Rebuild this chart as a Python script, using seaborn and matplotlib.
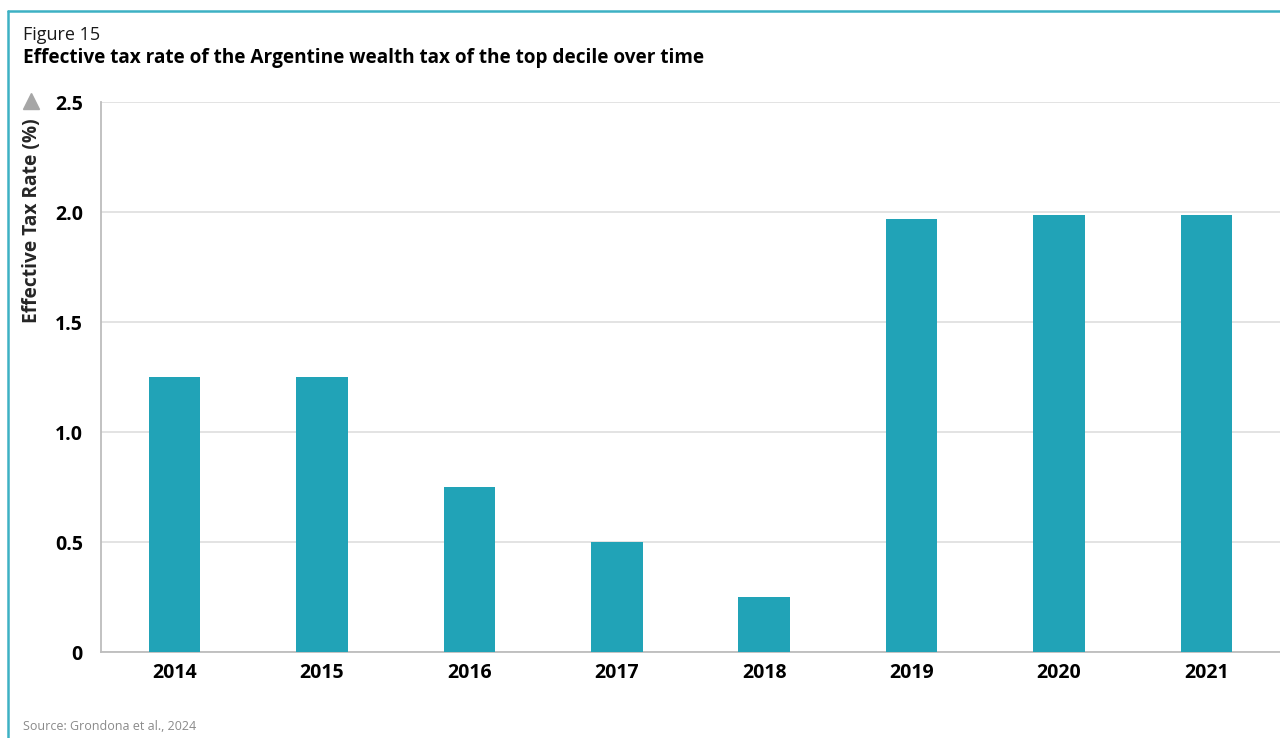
import matplotlib
matplotlib.use("Agg")
import matplotlib.pyplot as plt
from matplotlib.lines import Line2D
import seaborn as sns
import pandas as pd

# Effective wealth-tax rate of the top decile, by year (%)
years = ["2014", "2015", "2016", "2017", "2018", "2019", "2020", "2021"]
rates = [1.25, 1.25, 0.75, 0.50, 0.25, 1.97, 1.99, 1.99]
y_ticks = [0, 0.5, 1.0, 1.5, 2.0, 2.5]
y_tick_labels = ["0", "0.5", "1.0", "1.5", "2.0", "2.5"]

BAR = "#21A3B7"
FRAME = "#3DB1C4"
GRID = "#DEDEDE"
AXIS = "#BDBDBD"

sns.set_theme(style="white")
plt.rcParams["font.family"] = ["Open Sans", "DejaVu Sans"]

df = pd.DataFrame({"year": years, "rate": rates})

fig = plt.figure(figsize=(12.8, 7.38), dpi=100)
ax = fig.add_axes([101 / 1280, 85.7 / 738, 1 - 101 / 1280, 550 / 738])

sns.barplot(data=df, x="year", y="rate", color=BAR, width=0.35,
            saturation=1, linewidth=0, edgecolor="none", ax=ax, zorder=3)

ax.set_xlim(-0.5, len(years) - 0.5)
ax.set_ylim(0, 2.5)
ax.set_yticks(y_ticks)
ax.set_yticklabels(y_tick_labels)
ax.yaxis.grid(True, color=GRID, linewidth=1.2, zorder=0)
ax.set_axisbelow(True)

ax.tick_params(axis="y", length=8, width=1.2, color=GRID, pad=5,
               labelsize=14, labelcolor="black")
ax.tick_params(axis="x", length=0, pad=8, labelsize=14, labelcolor="black")
for lab in ax.get_xticklabels() + ax.get_yticklabels():
    lab.set_fontweight("bold")

for side in ("top", "right"):
    ax.spines[side].set_visible(False)
for side in ("left", "bottom"):
    ax.spines[side].set_color(AXIS)
    ax.spines[side].set_linewidth(1.3)

ax.set_xlabel("")
ax.set_ylabel("")

# y-axis title and marker
fig.text(32 / 1280, 1 - 221 / 738, "Effective Tax Rate (%)", rotation=90,
         ha="center", va="center", fontsize=13.8, fontweight="bold")
fig.add_artist(Line2D([31 / 1280], [1 - 101 / 738], marker="^", markersize=12,
                      color="#A6A6A6", linestyle="none", transform=fig.transFigure))

# headings and source
fig.text(23 / 1280, 1 - 35 / 738, "Figure 15", ha="left", va="center",
         fontsize=13, color="#1A1A1A")
fig.text(23 / 1280, 1 - 58 / 738,
         "Effective tax rate of the Argentine wealth tax of the top decile over time",
         ha="left", va="center", fontsize=13.7, fontweight="bold", color="black")
fig.text(23 / 1280, 1 - 727 / 738, "Source: Grondona et al., 2024", ha="left",
         va="center", fontsize=9, color="#8A8A8A")

# frame lines along top and left edges
fig.add_artist(Line2D([8 / 1280, 1.0], [1 - 11 / 738, 1 - 11 / 738],
                      color=FRAME, linewidth=1.8, transform=fig.transFigure))
fig.add_artist(Line2D([8 / 1280, 8 / 1280], [1 - 11 / 738, 0.0],
                      color=FRAME, linewidth=1.8, transform=fig.transFigure))

fig.savefig("out.png", dpi=100)
